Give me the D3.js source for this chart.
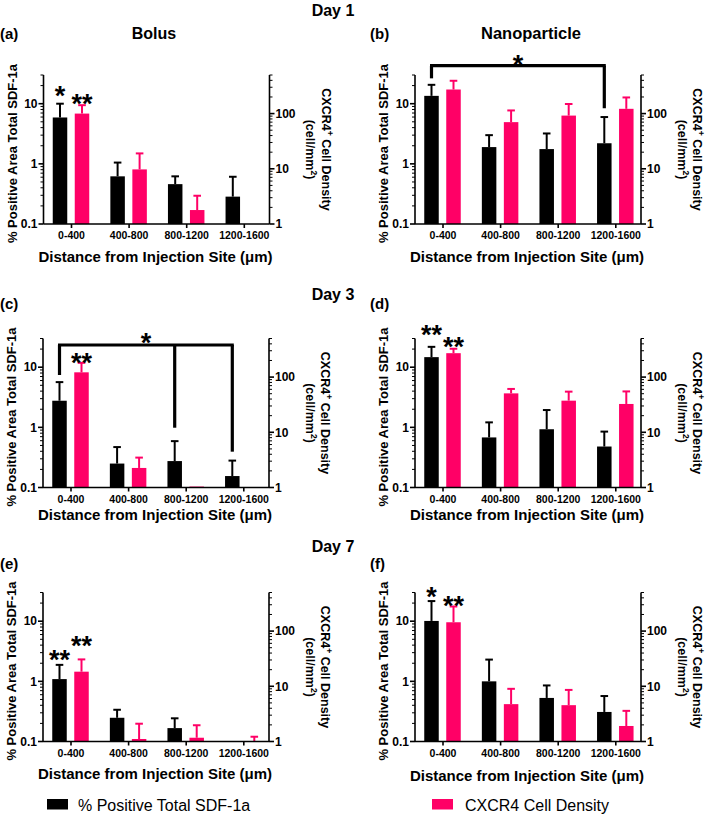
<!DOCTYPE html>
<html><head><meta charset="utf-8">
<script src="https://cdn.jsdelivr.net/npm/d3@7/dist/d3.min.js"></script>
<style>body{margin:0;background:#fff}svg{display:block;font-family:"Liberation Sans",Arial,sans-serif}</style>
</head><body><svg id="c" width="706" height="814"></svg>
<script>
// ---------- DATA ----------
const categories = ["0-400", "400-800", "800-1200", "1200-1600"];
const leftTickValues = [0.1, 1, 10];
const rightTickValues = [1, 10, 100];
const dayLabels = ["Day 1", "Day 3", "Day 7"];
const groupTitles = ["Bolus", "Nanoparticle"];
const seriesNames = ["% Positive Total SDF-1a", "CXCR4 Cell Density"];

// % positive area total SDF-1a (left axis): mean and upper error-bar end
const sdfA = [5.9, 0.62, 0.46, 0.285],  sdfA_top = [10, 1.05, 0.62, 0.61];
const sdfB = [13.5, 1.9, 1.76, 2.2],    sdfB_top = [20.6, 3.0, 3.2, 6.0];
const sdfC = [2.77, 0.25, 0.275, 0.155], sdfC_top = [5.65, 0.47, 0.59, 0.28];
const sdfD = [14.7, 0.68, 0.93, 0.48],  sdfD_top = [21.8, 1.21, 1.94, 0.85];
const sdfE = [1.09, 0.248, 0.167, null], sdfE_top = [1.88, 0.337, 0.243, null];
const sdfF = [10.1, 1.0, 0.53, 0.31],   sdfF_top = [21.6, 2.3, 0.855, 0.57];

// CXCR4+ cell density (right axis): mean and upper error-bar end
const cxA = [100, 9.75, 1.79, null],    cxA_top = [142, 19, 3.25, null];
const cxB = [273, 70, 92, 122],         cxB_top = [393, 114, 149, 196];
const cxC = [122, 2.26, 1.04, null],    cxC_top = [181, 3.48, null, null];
const cxD = [271, 50.7, 37.4, 32.6],    cxD_top = [326, 61, 54.5, 55];
const cxE = [18.4, 1.11, 1.17, 1.0],    cxE_top = [30.7, 2.1, 1.97, 1.22];
const cxF = [144.5, 4.75, 4.55, 1.91],  cxF_top = [279, 9.0, 8.6, 3.59];

// significance marks: [category index, series (0 sdf / 1 cx), label, level in left-axis units]
const starsA = [[0, 0, "*", 16.9], [0, 1, "**", 12.3]];
const starsB = [];
const starsC = [[0, 1, "**", 14.95]];
const starsD = [[0, 0, "**", 43.2], [0, 1, "**", 27.6]];
const starsE = [[0, 0, "**", 2.82], [0, 1, "**", 4.87]];
const starsF = [[0, 0, "*", 31.8], [0, 1, "**", 22.5]];

// comparison brackets on sdf bars: bar level (left units), drops [category, end level]
const bracketB = { level: 42.8, star: 54.7, drops: [[0, 26.4], [3, 8.4]] };
const bracketC = { level: 23.4, star: 32.1, drops: [[0, 7.42], [2, 0.986], [3, 0.394]] };

// ---------- LAYOUT ----------
const BLACK = "#000000", PINK = "#ff0066";
const FONT = '"Liberation Sans", Arial, sans-serif';
const svg = d3.select("#c");
const H = 149, W = 226;

const panels = [
  { tag: "(a)", left: 43.5, bottom: 224, sdf: sdfA, sdfTop: sdfA_top, cx: cxA, cxTop: cxA_top, stars: starsA, bracket: null, titleOff: 37.5, tagY: 39 },
  { tag: "(b)", left: 415, bottom: 224, sdf: sdfB, sdfTop: sdfB_top, cx: cxB, cxTop: cxB_top, stars: starsB, bracket: bracketB, titleOff: 37.5, tagY: 39 },
  { tag: "(c)", left: 43, bottom: 487.5, sdf: sdfC, sdfTop: sdfC_top, cx: cxC, cxTop: cxC_top, stars: starsC, bracket: bracketC, titleOff: 32, tagY: 309 },
  { tag: "(d)", left: 415, bottom: 487.5, sdf: sdfD, sdfTop: sdfD_top, cx: cxD, cxTop: cxD_top, stars: starsD, bracket: null, titleOff: 32.5, tagY: 309 },
  { tag: "(e)", left: 43, bottom: 741.5, sdf: sdfE, sdfTop: sdfE_top, cx: cxE, cxTop: cxE_top, stars: starsE, bracket: null, titleOff: 37.5, tagY: 569 },
  { tag: "(f)", left: 415, bottom: 741.5, sdf: sdfF, sdfTop: sdfF_top, cx: cxF, cxTop: cxF_top, stars: starsF, bracket: null, titleOff: 39, tagY: 569 }
];

const BARW = 14.5, OFF = 11;

panels.forEach((p, pi) => {
  const L = p.left, R = p.left + W, B = p.bottom, T = p.bottom - H;
  const x = d3.scalePoint().domain(categories).range([L + 27.5, L + 27.5 + 3 * 57.6]);
  const yL = d3.scaleLog().domain([0.1, 30]).range([B, T]);
  const yR = d3.scaleLog().domain([1, 500]).range([B, T]);
  const g = svg.append("g");

  // bars
  const drawSeries = (vals, tops, scale, base, dx, color) => {
    vals.forEach((v, i) => {
      if (v == null) return;
      const cx = x(categories[i]) + dx;
      const yv = scale(v);
      if (tops[i] != null) {
        const ye = scale(tops[i]);
        g.append("line").attr("x1", cx).attr("x2", cx).attr("y1", yv).attr("y2", ye)
          .attr("stroke", color).attr("stroke-width", 2);
        g.append("line").attr("x1", cx - 3.8).attr("x2", cx + 3.8).attr("y1", ye).attr("y2", ye)
          .attr("stroke", color).attr("stroke-width", 2);
      }
      g.append("rect").attr("x", cx - BARW / 2).attr("y", yv).attr("width", BARW)
        .attr("height", Math.max(0, scale(base) - yv)).attr("fill", color);
    });
  };
  drawSeries(p.sdf, p.sdfTop, yL, 0.1, -OFF, BLACK);
  drawSeries(p.cx, p.cxTop, yR, 1, OFF, PINK);

  // left axis
  const gl = g.append("g").attr("transform", `translate(${L},0)`);
  gl.append("line").attr("x1", 0).attr("x2", 0).attr("y1", T).attr("y2", B).attr("stroke", "#000").attr("stroke-width", 1.6);
  yL.ticks().forEach(t => {
    const major = leftTickValues.includes(t);
    gl.append("line").attr("x1", 0).attr("x2", major ? -5 : -3).attr("y1", yL(t)).attr("y2", yL(t))
      .attr("stroke", "#000").attr("stroke-width", major ? 1.6 : 1);
  });
  leftTickValues.forEach(t => {
    gl.append("text").attr("x", -6).attr("y", yL(t) + 4.3).attr("text-anchor", "end")
      .attr("font-size", 12).attr("font-weight", "bold").text(d3.format("~g")(t));
  });

  // right axis
  const gr = g.append("g").attr("transform", `translate(${R},0)`);
  gr.append("line").attr("x1", 0).attr("x2", 0).attr("y1", T).attr("y2", B).attr("stroke", "#000").attr("stroke-width", 1.6);
  yR.ticks().forEach(t => {
    const major = rightTickValues.includes(t);
    gr.append("line").attr("x1", 0).attr("x2", major ? 5 : 3).attr("y1", yR(t)).attr("y2", yR(t))
      .attr("stroke", "#000").attr("stroke-width", major ? 1.6 : 1);
  });
  rightTickValues.forEach(t => {
    gr.append("text").attr("x", 6).attr("y", yR(t) + 4.3).attr("text-anchor", "start")
      .attr("font-size", 12).attr("font-weight", "bold").text(d3.format("~g")(t));
  });

  // bottom axis
  const gb = g.append("g").attr("transform", `translate(0,${B})`)
    .call(d3.axisBottom(x).tickSize(4).tickPadding(4));
  gb.select(".domain").remove();
  gb.selectAll(".tick line").attr("stroke-width", 1.6);
  gb.selectAll(".tick text").attr("font-size", 10.5).attr("font-weight", "bold")
    .attr("font-family", FONT).attr("fill", "#000").attr("dy", "0.71em");
  g.append("line").attr("x1", L).attr("x2", R).attr("y1", B).attr("y2", B)
    .attr("stroke", "#000").attr("stroke-width", 1.6);

  // x title
  const xt = g.append("text").attr("x", (L + R) / 2 - 1).attr("y", B + p.titleOff)
    .attr("text-anchor", "middle").attr("font-size", 15).attr("font-weight", "bold");
  xt.append("tspan").text("Distance from Injection Site (");
  xt.append("tspan").text("\u03bc");
  xt.append("tspan").text("m)");

  // left title
  g.append("text").attr("transform", `translate(${L - 27},${(T + B) / 2 + 4}) rotate(-90)`)
    .attr("text-anchor", "middle").attr("font-size", 13).attr("font-weight", "bold")
    .text("% Positive Area Total SDF-1a");

  // right title
  const rt = g.append("text").attr("transform", `translate(${R + 52},${(T + B) / 2}) rotate(90)`)
    .attr("text-anchor", "middle").attr("font-size", 12.5).attr("font-weight", "bold");
  rt.append("tspan").text("CXCR4");
  rt.append("tspan").attr("font-size", 8.5).attr("dy", -5).text("+");
  rt.append("tspan").attr("dy", 5).text(" Cell Density");
  const rt2 = g.append("text").attr("transform", `translate(${R + 36.5},${(T + B) / 2}) rotate(90)`)
    .attr("text-anchor", "middle").attr("font-size", 12.5).attr("font-weight", "bold");
  rt2.append("tspan").text("(cell/mm");
  rt2.append("tspan").attr("font-size", 8.5).attr("dy", -5).text("2");
  rt2.append("tspan").attr("dy", 5).text(")");

  // panel tag
  svg.append("text").attr("x", pi % 2 === 0 ? 0 : 370).attr("y", p.tagY)
    .attr("font-size", 15).attr("font-weight", "bold").text(p.tag);

  // stars
  p.stars.forEach(([ci, s, label, lvl]) => {
    const cx = x(categories[ci]) + (s === 0 ? -OFF : OFF);
    g.append("text").attr("x", cx).attr("y", yL(lvl) + 15).attr("text-anchor", "middle")
      .attr("font-size", 27).attr("font-weight", "bold").text(label);
  });

  // bracket
  if (p.bracket) {
    const br = p.bracket;
    const xs = br.drops.map(d => x(categories[d[0]]) - OFF);
    const yb = yL(br.level);
    g.append("line").attr("x1", d3.min(xs) - 1.5).attr("x2", d3.max(xs) + 1.5).attr("y1", yb).attr("y2", yb)
      .attr("stroke", "#000").attr("stroke-width", 3.2);
    br.drops.forEach((d, k) => {
      g.append("line").attr("x1", xs[k]).attr("x2", xs[k]).attr("y1", yb).attr("y2", yL(d[1]))
        .attr("stroke", "#000").attr("stroke-width", 3.2);
    });
    g.append("text").attr("x", (d3.min(xs) + d3.max(xs)) / 2).attr("y", yL(br.star) + 15)
      .attr("text-anchor", "middle").attr("font-size", 27).attr("font-weight", "bold").text("*");
  }
});

// day labels & group titles
[16, 299.5, 552].forEach((yy, i) => {
  svg.append("text").attr("x", 333).attr("y", yy).attr("text-anchor", "middle")
    .attr("font-size", 16).attr("font-weight", "bold").text(dayLabels[i]);
});
svg.append("text").attr("x", 154).attr("y", 39).attr("text-anchor", "middle")
  .attr("font-size", 16).attr("font-weight", "bold").text(groupTitles[0]);
svg.append("text").attr("x", 531).attr("y", 39).attr("text-anchor", "middle")
  .attr("font-size", 16.5).attr("font-weight", "bold").text(groupTitles[1]);

// legend
[[47, BLACK, 78], [432, PINK, 465]].forEach(([lx, col, tx], i) => {
  svg.append("rect").attr("x", lx).attr("y", 799).attr("width", 21).attr("height", 10.5).attr("fill", col);
  svg.append("text").attr("x", tx).attr("y", 810.5).attr("font-size", 16).text(seriesNames[i]);
});
</script></body></html>
